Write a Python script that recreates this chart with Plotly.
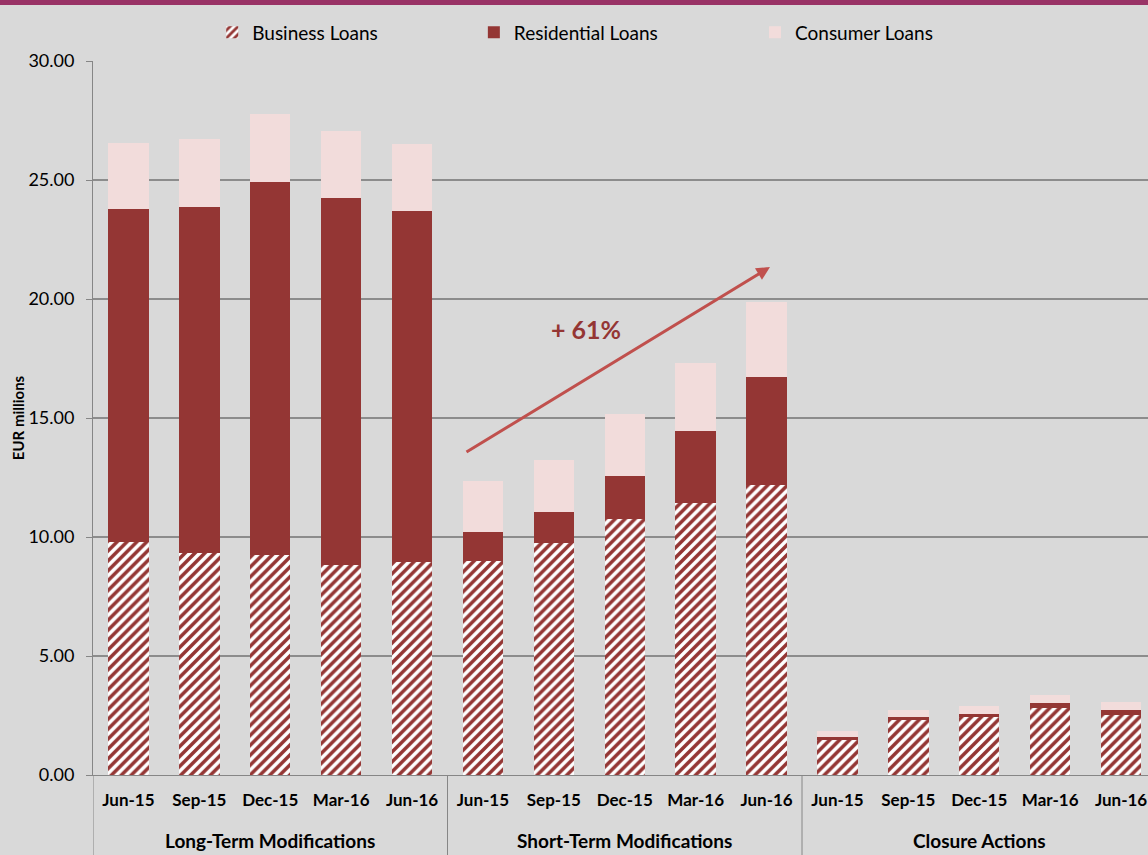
import plotly.graph_objects as go

# categories
group_names = ["Long-Term Modifications", "Short-Term Modifications", "Closure Actions"]
quarters = ["Jun-15", "Sep-15", "Dec-15", "Mar-16", "Jun-16"] * 3

# EUR millions
business = [9.79, 9.33, 9.24, 8.82, 8.95,
            8.99, 9.75, 10.76, 11.43, 12.18,
            1.47, 2.31, 2.44, 2.80, 2.53]
residential = [13.99, 14.54, 15.68, 15.42, 14.75,
               1.22, 1.30, 1.80, 3.02, 4.54,
               0.13, 0.14, 0.14, 0.21, 0.20]
consumer = [2.77, 2.85, 2.85, 2.82, 2.80,
            2.14, 2.19, 2.61, 2.86, 3.15,
            0.25, 0.28, 0.30, 0.35, 0.35]

dark_red = "#943634"
pink = "#f2dcdb"
bg = "#d9d9d9"
axis_grey = "#868686"
font = "Lato"

pos = list(range(len(quarters)))

fig = go.Figure()
fig.add_trace(go.Bar(
    x=pos, y=business, name="Business Loans", legend="legend", showlegend=True,
    marker=dict(color=dark_red, line_width=0,
                pattern=dict(shape="/", fgcolor=dark_red, bgcolor="white",
                             fgopacity=1, size=7, solidity=0.5, fillmode="replace")),
))
fig.add_trace(go.Bar(
    x=pos, y=residential, name="Residential Loans", legend="legend2", showlegend=True,
    marker=dict(color=dark_red, line_width=0),
))
fig.add_trace(go.Bar(
    x=pos, y=consumer, name="Consumer Loans", legend="legend3", showlegend=True,
    marker=dict(color=pink, line_width=0),
))

# group labels and dividers under the axis
for i, name in enumerate(group_names):
    fig.add_annotation(
        x=i * 5 + 2, xref="x", y=0, yref="paper", yshift=-79,
        text=f"<b>{name}</b>", showarrow=False,
        font=dict(family=font, size=19, color="black"),
    )
for b in [-0.5, 4.5, 9.5, 14.5]:
    fig.add_shape(type="line", xref="x", yref="paper", x0=b, x1=b,
                  y0=0, y1=-90 / 714, line=dict(color=axis_grey, width=1))

# growth arrow + label
fig.add_annotation(
    xref="x domain", yref="y domain", axref="x domain", ayref="y domain",
    x=0.6417, y=0.7115, ax=0.3526, ay=0.451,
    showarrow=True, arrowhead=2, arrowsize=0.9, arrowwidth=3, arrowcolor="#c0504d",
    text="",
)
fig.add_annotation(
    xref="x domain", yref="y domain", x=(586 - 93) / 1055, y=(775 - 329) / 714,
    text="<b>+ 61%</b>", showarrow=False,
    font=dict(family=font, size=25, color=dark_red),
)

# purple band across the top
fig.add_shape(type="rect", xref="paper", yref="paper",
              x0=-0.1, x1=1.05, y0=(775 - 5) / 714, y1=1.1,
              fillcolor="#993366", line_width=0, layer="above")

leg = dict(orientation="h", xanchor="left", y=1.04, yanchor="middle", visible=True,
           bgcolor="rgba(0,0,0,0)", font=dict(family=font, size=19))
fig.update_layout(
    width=1148, height=855,
    margin=dict(l=93, r=0, t=61, b=80),
    paper_bgcolor=bg, plot_bgcolor=bg,
    barmode="stack", bargap=0.43, showlegend=True,
    font=dict(family=font, size=16, color="black"),
    legend=dict(leg, x=0.113),
    legend2=dict(leg, x=0.361),
    legend3=dict(leg, x=0.6275),
)
fig.update_xaxes(
    range=[-0.5, 14.38],
    tickmode="array", tickvals=pos, ticktext=[f"<b>{q}</b>" for q in quarters],
    tickfont=dict(family=font, size=17), ticklabelstandoff=10,
    showgrid=False, showline=True, linecolor=axis_grey, linewidth=1,
    ticks="", zeroline=False,
)
fig.update_yaxes(
    range=[0, 30], dtick=5, tickformat=".2f",
    showgrid=True, gridcolor="#8c8c8c", gridwidth=1.5,
    showline=True, linecolor=axis_grey, linewidth=1,
    ticks="outside", ticklen=6, tickcolor=axis_grey,
    tickfont=dict(family=font, size=18), ticklabelstandoff=8,
    title=dict(text="<b>EUR millions</b>", font=dict(family=font, size=15), standoff=0),
    zeroline=False,
)

fig.write_html("out.html", config={"displayModeBar": False},
               post_script="document.body.style.margin='0';")
